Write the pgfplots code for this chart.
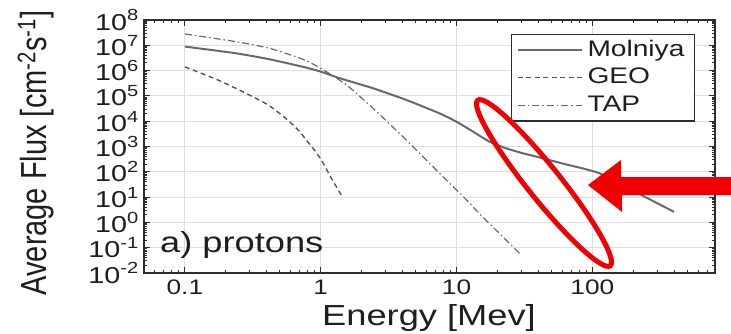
\documentclass[border=0pt]{standalone}
\usepackage{pgfplots}
\pgfplotsset{compat=1.18}
\usepackage{fontspec}
\setmainfont{Liberation Sans}[FakeStretch=1.25]
\newfontfamily\plainsans{Liberation Sans}
\usepackage{graphicx}
\definecolor{redann}{RGB}{240,0,0}
\definecolor{gridc}{RGB}{222,222,222}
\definecolor{linec}{RGB}{105,105,105}
\definecolor{framec}{RGB}{45,45,45}
\definecolor{txt}{RGB}{30,30,30}
\begin{document}
\begin{tikzpicture}
\useasboundingbox (0pt,0pt) rectangle (731pt,333pt);
\begin{axis}[
  at={(144pt,60pt)}, anchor=south west,
  scale only axis, width=571pt, height=253pt,
  xmode=log, ymode=log,
  xmin=0.05, xmax=800, ymin=1e-2, ymax=1e8,
  axis line style={framec, line width=1.6pt},
  grid=major, major grid style={gridc, line width=0.9pt},
  tick style={framec, line width=1pt},
  major tick length=6pt, minor tick length=3pt,
  tick align=inside,
  xtick={0.1,1,10,100}, xticklabels={0.1,1,10,100},
  minor xtick={0.06,0.07,0.08,0.09,0.2,0.3,0.4,0.5,0.6,0.7,0.8,0.9,2,3,4,5,6,7,8,9,20,30,40,50,60,70,80,90,200,300,400,500,600,700,800},
  ytick={1e-2,1e-1,1,10,100,1e3,1e4,1e5,1e6,1e7,1e8},
  yticklabels={10\textsuperscript{-2},10\textsuperscript{-1},10\textsuperscript{0},10\textsuperscript{1},10\textsuperscript{2},10\textsuperscript{3},10\textsuperscript{4},10\textsuperscript{5},10\textsuperscript{6},10\textsuperscript{7},10\textsuperscript{8}},
  minor ytick={2e-2,3e-2,4e-2,5e-2,6e-2,7e-2,8e-2,9e-2,
    2e-1,3e-1,4e-1,5e-1,6e-1,7e-1,8e-1,9e-1,
    2,3,4,5,6,7,8,9,20,30,40,50,60,70,80,90,
    200,300,400,500,600,700,800,900,
    2e3,3e3,4e3,5e3,6e3,7e3,8e3,9e3,
    2e4,3e4,4e4,5e4,6e4,7e4,8e4,9e4,
    2e5,3e5,4e5,5e5,6e5,7e5,8e5,9e5,
    2e6,3e6,4e6,5e6,6e6,7e6,8e6,9e6,
    2e7,3e7,4e7,5e7,6e7,7e7,8e7,9e7},
  xticklabel style={font=\fontsize{21}{21}\selectfont, text=txt, inner sep=0pt, yshift=-7pt},
  yticklabel style={font=\fontsize{23}{23}\selectfont, text=txt, inner sep=0pt, xshift=-5pt},
  legend style={at={(0.965,0.945)}, anchor=north east, draw=framec, line width=1.2pt, fill=white,
    font=\fontsize{22.5}{22.5}\selectfont, text=txt, inner xsep=5pt, inner ysep=2pt, row sep=0pt,
    cells={anchor=west}, nodes={inner xsep=5pt, inner ysep=1.5pt, text height=18pt, text depth=6.5pt}},
  legend image code/.code={\draw[#1] (0pt,0pt) -- (64pt,0pt);},
  legend cell align=left,
]
\addplot[linec, line width=2pt, smooth, tension=0.4] coordinates {
 (0.1,8.9e6) (0.24,4.8e6) (0.42,2.8e6) (0.74,1.41e6) (1,9.1e5) (1.38,5.0e5) (2.43,2.0e5) (4.27,6.9e4) (7.5,2.04e4) (10,9.5e3) (13.2,3.9e3) (17.5,1.55e3) (23.2,850) (30.8,540) (40.8,370) (60,214) (112,89) (195,19) (400,2.6)};
\addlegendentry{Molniya}
\addplot[linec!80!black, line width=1.4pt, dash pattern=on 5pt off 3.5pt, smooth, tension=0.4] coordinates {
 (0.1,1.4e6) (0.18,4.0e5) (0.316,9.3e4) (0.41,4.4e4) (0.5,2.0e4) (0.59,9.5e3) (0.70,3.9e3) (0.79,1.7e3) (0.9,720) (1.01,295) (1.1,130) (1.2,55) (1.32,23) (1.45,9.8)};
\addlegendentry{GEO}
\addplot[linec, line width=1.2pt, dash pattern=on 7pt off 3pt on 1.5pt off 3pt, smooth, tension=0.4] coordinates {
 (0.1,2.8e7) (0.24,1.38e7) (0.42,7.6e6) (0.74,2.8e6) (1,1.23e6) (1.55,2.7e5) (2.43,3.2e4) (4.27,1.8e3) (7.5,87) (11.2,10.5) (15.5,1.7) (30,0.051)};
\addlegendentry{TAP}
\end{axis}
% annotations
\draw[redann, line width=5pt] (544pt,150pt) ellipse [x radius=106pt, y radius=16.5pt, rotate=-51.3];
\fill[redann] (588pt,148pt) -- (621pt,173pt) -- (621pt,156pt) -- (731pt,156pt) -- (731pt,138pt) -- (622pt,138pt) -- (622pt,121pt) -- cycle;
% labels
\node[anchor=base west, inner sep=0pt, text=txt, font=\fontsize{29}{29}\selectfont] at (160pt,81pt) {a) protons};
\node[anchor=base, inner sep=0pt, text=txt, font=\fontsize{29}{29}\selectfont] at (429pt,8pt) {Energy [Mev]};
\node[rotate=90, inner sep=0pt, text=txt] at (36pt,180pt) {\scalebox{1}[1.25]{\plainsans\fontsize{29}{29}\selectfont Average Flux [cm\textsuperscript{-2}s\textsuperscript{-1}]}};
\end{tikzpicture}
\end{document}
